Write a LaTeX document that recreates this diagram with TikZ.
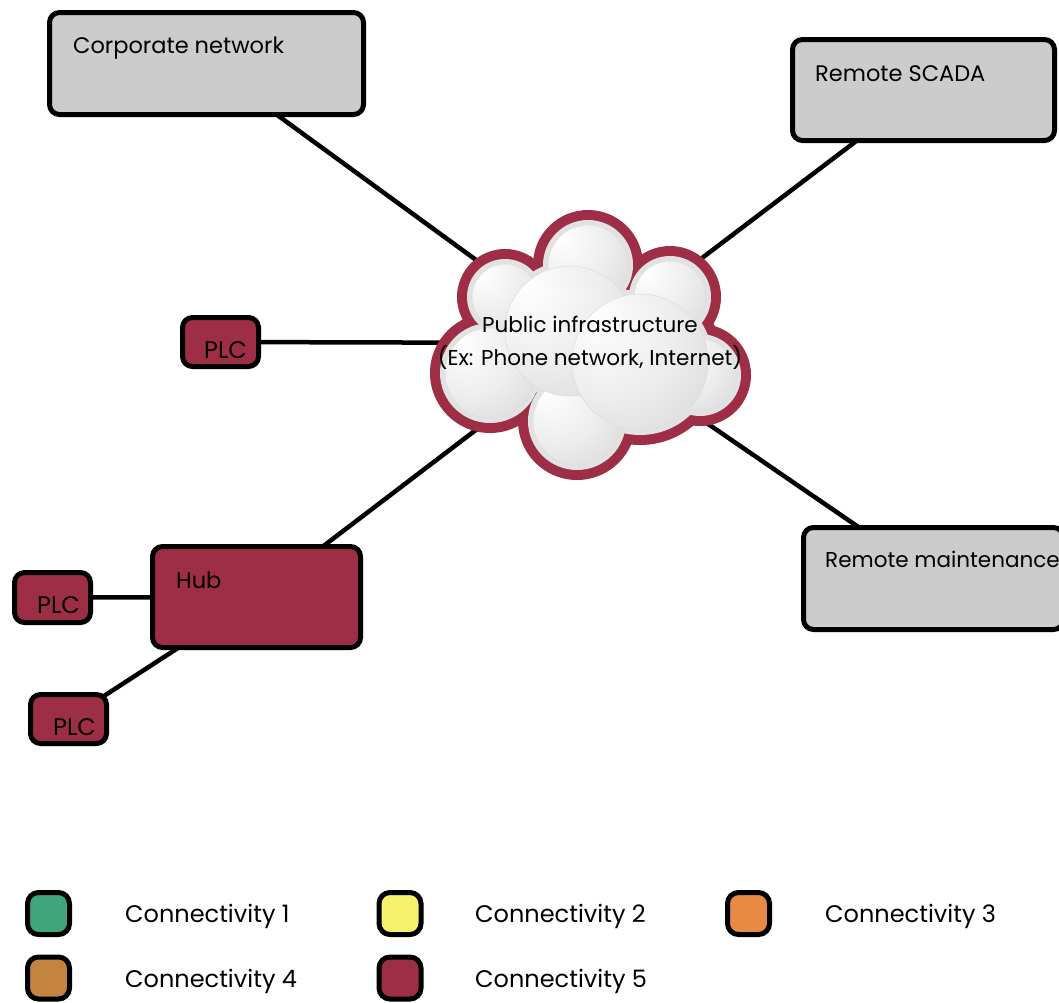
\documentclass[tikz,border=0pt]{standalone}
\usepackage{fontspec}
\setmainfont{Poppins}
\usetikzlibrary{backgrounds}
\definecolor{maroon}{HTML}{9E2E45}
\definecolor{boxgray}{HTML}{CCCCCC}
\definecolor{rimgray}{HTML}{E2E2E2}
\definecolor{conA}{HTML}{40A57A}
\definecolor{conB}{HTML}{F7F06A}
\definecolor{conC}{HTML}{E88A45}
\definecolor{conD}{HTML}{C2843F}
\pgfdeclareradialshading{sphere}{\pgfpoint{-18bp}{18bp}}{color(0bp)=(white); color(25bp)=(white!93!black); color(72bp)=(white!74!black)}
\begin{document}
\begin{tikzpicture}[x=1pt,y=-1pt,
  txt/.style={font=\fontsize{22.5}{26}\selectfont, anchor=base west, inner sep=0pt},
  plctxt/.style={txt, font=\fontsize{24}{28}\selectfont},
  legtxt/.style={txt, font=\fontsize{24}{28}\selectfont},
  boxbase/.style={draw=black, line width=5pt, rounded corners=10pt, inner sep=0pt},
  graybox/.style={boxbase, fill=boxgray},
  redbox/.style={boxbase, fill=maroon},
  legbox/.style={boxbase, minimum width=42pt, minimum height=42pt, rounded corners=11pt},
  link/.style={line width=4.5pt, black}]
\useasboundingbox (0,0) rectangle (1059,1002);

% boxes
\node[graybox, minimum width=314pt, minimum height=102pt] (corp) at (206.5,63.5) {};
\node[txt] (corpt) at (73,53) {Corporate network};
\node[graybox, minimum width=262pt, minimum height=101pt] (scada) at (923.5,90) {};
\node[txt] (scadat) at (815,81) {Remote SCADA};
\node[graybox, minimum width=260pt, minimum height=102pt] (maint) at (933.5,578.5) {};
\node[txt, font=\fontsize{21.5}{26}\selectfont] (maintt) at (825,567) {Remote maintenance};
\node[redbox, minimum width=208pt, minimum height=101pt] (hub) at (256.5,597) {};
\node[txt] (hubt) at (176,588) {Hub};
\node[redbox, minimum width=76pt, minimum height=49pt] (plcm) at (220.5,342) {};
\node[plctxt] (plcmt) at (204,358) {PLC};
\node[redbox, minimum width=76pt, minimum height=50pt] (plcl) at (52.5,597.5) {};
\node[plctxt] (plclt) at (37,613) {PLC};
\node[redbox, minimum width=76pt, minimum height=49pt] (plcb) at (68.5,719) {};
\node[plctxt] (plcbt) at (53,735) {PLC};

% cloud
\foreach \x/\y/\r in {588/265/40, 505/297/33, 670/297/36, 490/373/45, 700/375/36, 577/421/44, 570/331/65, 640/362/68}
  \fill[maroon] (\x,\y) circle[radius={\r pt+15pt}];
\foreach \x/\y/\r in {588/265/40, 505/297/33, 670/297/36, 490/373/45, 700/375/36, 577/421/44, 570/331/65, 640/362/68}
  \fill[rimgray] (\x,\y) circle[radius={\r pt+5pt}];
\foreach \x/\y/\r in {588/265/40, 505/297/33, 670/297/36, 490/373/45, 700/375/36, 577/421/44, 570/331/65, 640/362/68}
  \shade[shading=sphere, draw=white!87!black, line width=0.6pt] (\x,\y) circle[radius={\r pt}];
\node[font=\fontsize{21.5}{33}\selectfont, align=center, inner sep=0pt] (cloud) at (590,343)
  {Public infrastructure\\(Ex: Phone network, Internet)};

% connectors
\begin{pgfonlayer}{background}
\draw[link] (corp.center) -- (cloud.center);
\draw[link] (scada.center) -- (cloud.center);
\draw[link] (maint.center) -- (cloud.center);
\draw[link] (plcm.center) -- (cloud.center);
\draw[link] (hub.center) -- (cloud.center);
\draw[link] (plcl.center) -- (hub.center);
\draw[link] (plcb.center) -- (hub.center);
\end{pgfonlayer}

% legend
\node[legbox, fill=conA] (l1) at (48.5,913.5) {};
\node[legtxt] (l1t) at (125,922) {Connectivity 1};
\node[legbox, fill=conB] (l2) at (400,913.5) {};
\node[legtxt] (l2t) at (475,922) {Connectivity 2};
\node[legbox, fill=conC] (l3) at (748.5,913.5) {};
\node[legtxt] (l3t) at (825,922) {Connectivity 3};
\node[legbox, fill=conD] (l4) at (48.5,978) {};
\node[legtxt] (l4t) at (125,987) {Connectivity 4};
\node[legbox, fill=maroon] (l5) at (400,978) {};
\node[legtxt] (l5t) at (475,987) {Connectivity 5};
\end{tikzpicture}
\end{document}
